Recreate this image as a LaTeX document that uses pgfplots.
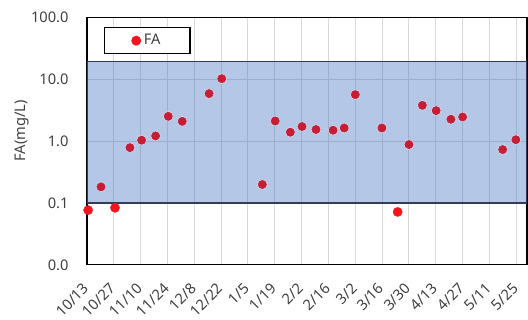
\documentclass[border=0pt]{standalone}
\usepackage{pgfplots}
\pgfplotsset{compat=1.18}
\usepackage{fontspec}
\setmainfont{Noto Sans}
\definecolor{bandfill}{RGB}{68,114,196}
\definecolor{bandline}{RGB}{50,60,90}
\definecolor{ptred}{RGB}{245,20,30}
\definecolor{ptdark}{RGB}{198,30,55}
\definecolor{halo}{RGB}{215,228,245}
\definecolor{gridgray}{RGB}{217,217,217}
\definecolor{txt}{RGB}{64,64,64}
\begin{document}
\fontsize{11}{13}\selectfont
\begin{tikzpicture}
\useasboundingbox (-65.25pt,-41.25pt) rectangle (330.75pt,198.7pt);
\begin{axis}[
  at={(0,0)}, anchor=south west,
  scale only axis, width=330pt, height=185.5pt,
  xmin=0, xmax=229.6, ymode=log, ymin=0.01, ymax=100,
  xtick={0,14,...,224},
  xticklabels={10/13,10/27,11/10,11/24,12/8,12/22,1/5,1/19,2/2,2/16,3/2,3/16,3/30,4/13,4/27,5/11,5/25},
  ytick={0.01,0.1,1,10,100},
  yticklabels={0.0,0.1,1.0,10.0,100.0},
  yminorticks=false,
  grid=major,
  major grid style={gridgray, line width=0.75pt},
  tick style={draw=none},
  axis line style={black, line width=0.8pt},
  xticklabel style={xshift=2pt, yshift=-13pt, rotate=45, anchor=east, text=txt, font=\fontsize{11}{13}\selectfont},
  yticklabel style={xshift=-10pt, text=txt, font=\fontsize{11}{13}\selectfont},
  ylabel={FA(mg/L)},
  ylabel style={at={(axis description cs:-0.148,0.542)}, anchor=center, text=txt, font=\fontsize{11}{13}\selectfont},
  legend style={at={(axis description cs:0.0386,0.962)}, anchor=north west,
    draw=black, line width=1pt, inner xsep=20pt, inner ysep=3pt,
    text=txt, font=\fontsize{11}{13}\selectfont},
  legend image code/.code={\fill[ptred] (0pt,0pt) circle (3.2pt);},
]
\addplot[fill=bandfill, fill opacity=0.4, draw=bandline, line width=0.9pt, forget plot]
  coordinates {(0,0.1) (229.6,0.1) (229.6,19.3) (0,19.3)} -- cycle;
\addplot[only marks, mark=*, mark size=3.5pt, mark options={fill=ptred, draw=ptred, line width=0.2pt}]
  coordinates {(0.6,0.077) (14.6,0.084) (162.1,0.072)};
\addlegendentry{FA}
\addplot[only marks, mark=*, mark size=3.7pt, mark options={fill=ptdark, draw=halo, line width=0.4pt}, forget plot]
  coordinates {
  (7.3,0.183) (22.4,0.79) (28.5,1.04) (35.8,1.22) (42.4,2.53) (49.7,2.1)
  (63.7,5.9) (70.3,10.3) (91.5,0.2) (98.2,2.13) (106.1,1.40) (112.2,1.73)
  (119.5,1.55) (128.4,1.51) (134.2,1.64) (140,5.68) (153.9,1.64) (168,0.885)
  (175,3.81) (182.2,3.13) (189.9,2.27) (196,2.47) (216.9,0.734) (223.8,1.06)};
\end{axis}
\end{tikzpicture}
\end{document}
